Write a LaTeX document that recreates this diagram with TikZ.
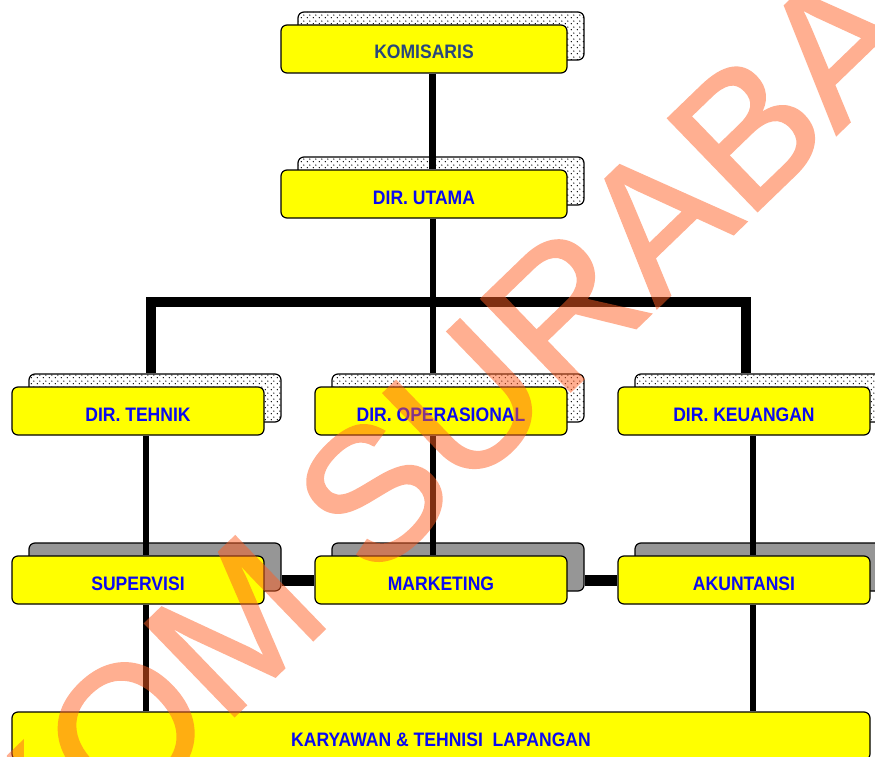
\documentclass[tikz,border=0pt]{standalone}
\usepackage{fontspec}
\setmainfont{Liberation Sans}
\newfontfamily\boxfont[FakeStretch=0.9]{Liberation Sans}
\newfontfamily\markfont[FakeBold=1.2]{Liberation Sans}
\usetikzlibrary{patterns}

\definecolor{boxyellow}{RGB}{255,255,0}
\definecolor{boxblue}{RGB}{10,10,240}
\definecolor{komblue}{RGB}{40,70,125}
\definecolor{backgray}{RGB}{150,150,150}
\definecolor{markorange}{RGB}{255,95,35}

\pgfdeclarepatternformonly{boxdots}{\pgfpointorigin}{\pgfpoint{6pt}{6pt}}{\pgfpoint{6pt}{6pt}}{%
  \pgfpathcircle{\pgfpoint{1.5pt}{1.5pt}}{0.8pt}%
  \pgfpathcircle{\pgfpoint{4.5pt}{4.5pt}}{0.8pt}%
  \pgfusepath{fill}}

\pgfdeclarelayer{backs}
\pgfdeclarelayer{lines}
\pgfdeclarelayer{mark}
\pgfsetlayers{backs,lines,main,mark}

\begin{document}
\begin{tikzpicture}[x=1pt,y=-1pt]
        \useasboundingbox (0,0) rectangle (875,757);
        \clip (0,0) rectangle (875,757);
        \tikzstyle{every node} = [rounded corners=6pt,draw=black,line width=1.2pt,inner sep=0pt,minimum height=48pt]
        \tikzstyle{unit} = [fill=boxyellow,text=boxblue,minimum width=252pt,text height=20pt,text depth=0pt,
                            font=\boxfont\bfseries\fontsize{19.5}{20}\selectfont]
        \tikzstyle{wide} = [unit,minimum width=286pt]
        \tikzstyle{dotback} = [preaction={fill=white},pattern=boxdots,minimum width=252pt]
        \tikzstyle{grayback} = [fill=backgray,minimum width=252pt]
        % boxes
        \node[wide,text=komblue] (kom) at (424,49) {KOMISARIS};
        \node[wide] (uta) at (424,194) {DIR. UTAMA};
        \node[unit] (tek) at (138,411) {DIR. TEHNIK};
        \node[unit] (ops) at (441,411) {DIR. OPERASIONAL};
        \node[unit] (keu) at (744,411) {DIR. KEUANGAN};
        \node[unit] (sup) at (138,580) {SUPERVISI};
        \node[unit] (mkt) at (441,580) {MARKETING};
        \node[unit] (akt) at (744,580) {AKUNTANSI};
        \node[unit,minimum width=858pt] (kar) at (441,736) {KARYAWAN \& TEHNISI~ LAPANGAN};
        % boxes behind
        \begin{pgfonlayer}{backs}
        \node[dotback,minimum width=286pt] (kom-b) at (441,36) {};
        \node[dotback,minimum width=286pt] (uta-b) at (441,181) {};
        \node[dotback] (tek-b) at (155,398) {};
        \node[dotback] (ops-b) at (458,398) {};
        \node[dotback] (keu-b) at (761,398) {};
        \node[grayback] (sup-b) at (155,567) {};
        \node[grayback] (mkt-b) at (458,567) {};
        \node[grayback] (akt-b) at (761,567) {};
        \end{pgfonlayer}
        % lines
        \coordinate (mid) at (432.5,302);
        \coordinate (bus-l) at (151,302);
        \coordinate (bus-r) at (746,302);
        \coordinate (left) at (146,0);
        \coordinate (right) at (753,0);
        \begin{pgfonlayer}{lines}
        \draw[line width=7pt] (kom.south -| mid) -- (uta.north -| mid);
        \draw[line width=6pt] (uta.south -| mid) -- (ops-b.north -| mid);
        \draw[line width=10pt] (tek-b.north -| bus-l) -- (bus-l) -- (bus-r) -- (keu-b.north -| bus-r);
        \draw[line width=6pt] (tek.south -| left) -- (sup.north -| left);
        \draw[line width=6pt] (ops.south -| mid) -- (mkt.north -| mid);
        \draw[line width=6pt] (keu.south -| right) -- (akt.north -| right);
        \draw[line width=11pt] (sup-b.east |- sup) -- (mkt.west);
        \draw[line width=11pt] (mkt-b.east |- mkt) -- (akt.west);
        \draw[line width=6pt] (sup.south -| left) -- (kar.north -| left);
        \draw[line width=6pt] (akt.south -| right) -- (kar.north -| right);
        \end{pgfonlayer}
        % watermark
        \begin{pgfonlayer}{mark}
        \begin{scope}[transparency group,opacity=0.5]
        \node[draw=none,text=markorange,rotate=44,
              font=\markfont\fontsize{187}{187}\selectfont] (stamp) at (408,459) {STIKOM SURABAYA};
        \end{scope}
        \end{pgfonlayer}
\end{tikzpicture}
\end{document}
